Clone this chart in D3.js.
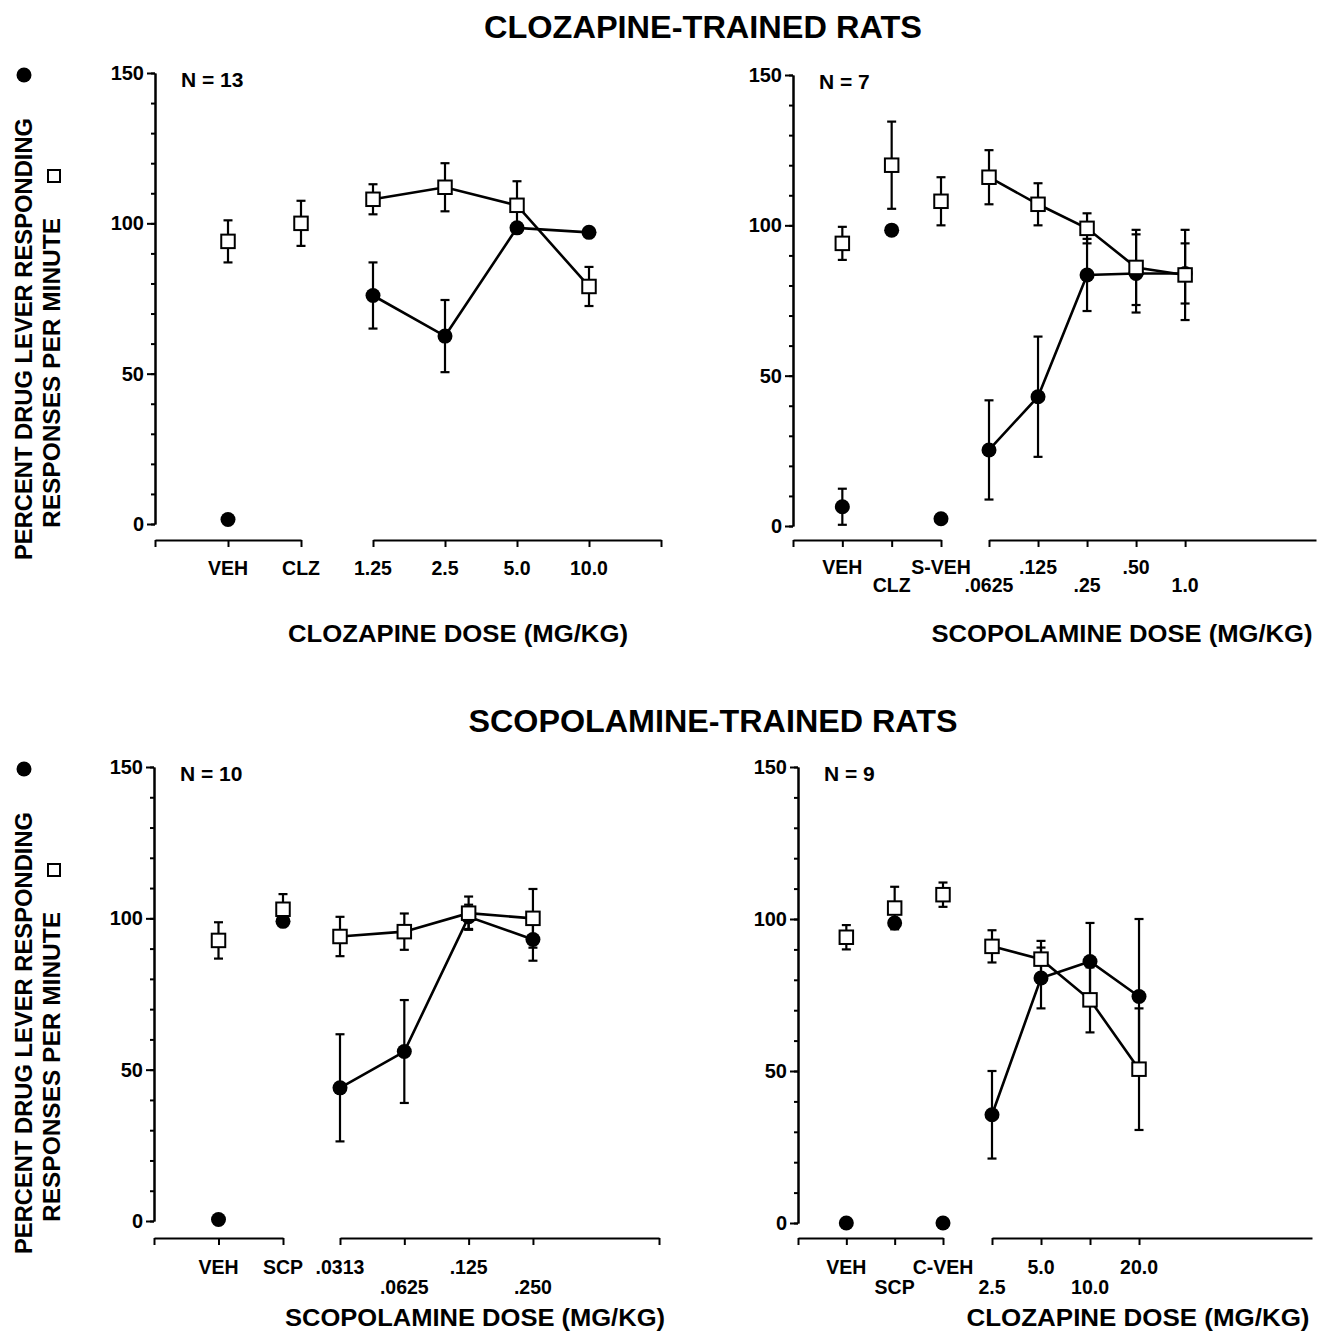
<!DOCTYPE html>
<html>
<head>
<meta charset="utf-8">
<script src="https://cdn.jsdelivr.net/npm/d3@7"></script>
<style>
body { margin: 0; background: #fff; }
text { font-family: "Liberation Sans", Arial, Helvetica, sans-serif; font-weight: bold; fill: #000; }
.tick text { font-size: 20px; }
.tick line, .domain { stroke: #000; stroke-width: 2; }
</style>
</head>
<body>
<svg id="fig" width="1318" height="1333"></svg>
<script>
// y axis ticks shared by all four panels
var yTicks = [0, 50, 100, 150];

// clozapine-trained rats, clozapine doses
var aTicks1 = ["VEH", "CLZ"];
var aTicks2 = ["1.25", "2.5", "5.0", "10.0"];
var aDoses    = ["VEH", "CLZ", "1.25", "2.5", "5.0", "10.0"];
var aDrug     = [1.5, null, 76, 62.5, 98.5, 97];
var aDrugErr  = [0, 0, 11, 12, 0, 0];
var aRate     = [94, 100, 108, 112, 106, 79];
var aRateErr  = [7, 7.5, 5, 8, 8, 6.5];

// clozapine-trained rats, scopolamine doses
var bTicks1 = ["VEH", "CLZ", "S-VEH"];
var bTicks2 = [".0625", ".125", ".25", ".50", "1.0"];
var bDoses    = ["VEH", "CLZ", "S-VEH", ".0625", ".125", ".25", ".50", "1.0"];
var bDrug     = [6.4, 98.4, 2.4, 25.3, 43, 83.5, 84, 84];
var bDrugErr  = [6, 0, 0, 16.5, 20, 12, 13, 10];
var bRate     = [94, 120, 108, 116, 107, 99, 86, 83.5];
var bRateErr  = [5.5, 14.5, 8, 9, 7, 5, 12.5, 15];

// scopolamine-trained rats, scopolamine doses
var cTicks1 = ["VEH", "SCP"];
var cTicks2 = [".0313", ".0625", ".125", ".250"];
var cDoses    = ["VEH", "SCP", ".0313", ".0625", ".125", ".250"];
var cDrug     = [0.5, 99, 44, 56, 100.5, 93];
var cDrugErr  = [0, 0, 17.7, 17, 4, 7];
var cRate     = [92.7, 103, 94, 95.6, 101.7, 100];
var cRateErr  = [6, 5, 6.5, 6, 5.5, 9.7];

// scopolamine-trained rats, clozapine doses
var dTicks1 = ["VEH", "SCP", "C-VEH"];
var dTicks2 = ["2.5", "5.0", "10.0", "20.0"];
var dDoses    = ["VEH", "SCP", "C-VEH", "2.5", "5.0", "10.0", "20.0"];
var dDrug     = [0, 98.7, 0, 35.6, 80.6, 86, 74.5];
var dDrugErr  = [0, 0, 0, 14.4, 10, 12.7, 25.5];
var dRate     = [94, 103.6, 108, 91, 86.8, 73.4, 50.6];
var dRateErr  = [4, 7, 4, 5.3, 6, 10.7, 20];

var svg = d3.select("#fig");

// titles
svg.append("text").attr("x", 703).attr("y", 38).attr("text-anchor", "middle")
	.style("font-size", "31px").attr("textLength", 438).attr("lengthAdjust", "spacingAndGlyphs")
	.text("CLOZAPINE-TRAINED RATS");
svg.append("text").attr("x", 713).attr("y", 732).attr("text-anchor", "middle")
	.style("font-size", "31px").attr("textLength", 489).attr("lengthAdjust", "spacingAndGlyphs")
	.text("SCOPOLAMINE-TRAINED RATS");

// rotated y titles with the two symbol keys
var yTitle = function (top) {
	svg.append("circle").attr("cx", 24).attr("cy", top + 2).attr("r", 7.5).style("fill", "#000");
	svg.append("rect").attr("x", 48).attr("y", top + 97).attr("width", 12).attr("height", 12)
		.style("fill", "#fff").style("stroke", "#000").style("stroke-width", 2);
	svg.append("text").attr("transform", "translate(32," + (top + 266) + ") rotate(-90)")
		.attr("text-anchor", "middle").style("font-size", "24px")
		.attr("textLength", 442).attr("lengthAdjust", "spacingAndGlyphs")
		.text("PERCENT DRUG LEVER RESPONDING");
	svg.append("text").attr("transform", "translate(60," + (top + 300) + ") rotate(-90)")
		.attr("text-anchor", "middle").style("font-size", "24px")
		.attr("textLength", 310).attr("lengthAdjust", "spacingAndGlyphs")
		.text("RESPONSES PER MINUTE");
};
yTitle(73);
yTitle(767);

var drawPanel = function (p) {
	var g = svg.append("g");
	var y = d3.scaleLinear().domain([0, 150]).range([p.yBot, p.yTop]);
	var x1 = d3.scalePoint().domain([""].concat(p.ticks1)).range(p.seg1);
	var x2 = d3.scaleLinear().domain([0, p.span2]).range(p.seg2);
	var xOf = function (c) {
		var i = p.ticks2.indexOf(c);
		return i < 0 ? x1(c) : x2(i);
	};

	// y axis, minor then major ticks
	g.append("g").attr("transform", "translate(" + p.ox + ",0)")
		.call(d3.axisLeft(y).tickValues(d3.range(0, 151, 10)).tickSize(4).tickSizeOuter(0).tickFormat(""));
	g.append("g").attr("transform", "translate(" + p.ox + ",0)")
		.call(d3.axisLeft(y).tickValues(yTicks).tickSize(8).tickSizeOuter(0).tickPadding(3));

	// broken x axis
	g.append("g").attr("transform", "translate(0," + p.axisY + ")")
		.call(d3.axisBottom(x1).tickSize(7).tickSizeOuter(0).tickFormat(""));
	var t2 = d3.range(p.ticks2.length);
	if (p.endTick) t2.push(p.span2);
	g.append("g").attr("transform", "translate(0," + p.axisY + ")")
		.call(d3.axisBottom(x2).tickValues(t2).tickSize(7).tickSizeOuter(0).tickFormat(""));

	// staggered tick labels
	p.ticks1.concat(p.ticks2).forEach(function (c, i) {
		g.append("text").attr("x", xOf(c)).attr("y", p.axisY + p.rows[p.labelRow[i]])
			.attr("text-anchor", "middle").attr("dy", "0.35em").style("font-size", "19.5px").text(c);
	});

	g.append("text").attr("x", p.titleX).attr("y", p.titleY).attr("text-anchor", "middle")
		.attr("dy", "0.35em").style("font-size", "24px")
		.attr("textLength", p.titleW).attr("lengthAdjust", "spacingAndGlyphs").text(p.title);
	g.append("text").attr("x", p.ox + 26).attr("y", p.yTop + 7).attr("dy", "0.35em")
		.style("font-size", "21px").text(p.n);

	var pts = p.doses.map(function (d, i) {
		return { x: xOf(d), seg2: p.ticks2.indexOf(d) >= 0,
			drug: p.drug[i], drugErr: p.drugErr[i], rate: p.rate[i], rateErr: p.rateErr[i] };
	});

	// error bars
	var bar = function (v, e, x) {
		if (v === null || !e) return;
		g.append("line").attr("x1", x).attr("x2", x).attr("y1", y(v - e)).attr("y2", y(v + e))
			.style("stroke", "#000").style("stroke-width", 2.2);
		[v - e, v + e].forEach(function (yy) {
			g.append("line").attr("x1", x - 4.5).attr("x2", x + 4.5).attr("y1", y(yy)).attr("y2", y(yy))
				.style("stroke", "#000").style("stroke-width", 2.2);
		});
	};
	pts.forEach(function (d) {
		bar(d.drug, d.drugErr, d.x);
		bar(d.rate, d.rateErr, d.x);
	});

	// connecting lines over the dose segment
	var seg = pts.filter(function (d) { return d.seg2; });
	g.append("path").datum(seg)
		.attr("d", d3.line().x(function (d) { return d.x; }).y(function (d) { return y(d.drug); }))
		.style("fill", "none").style("stroke", "#000").style("stroke-width", 2.6);
	g.append("path").datum(seg)
		.attr("d", d3.line().x(function (d) { return d.x; }).y(function (d) { return y(d.rate); }))
		.style("fill", "none").style("stroke", "#000").style("stroke-width", 2.6);

	g.selectAll("circle.drug").data(pts.filter(function (d) { return d.drug !== null; }))
		.enter().append("circle").attr("class", "drug")
		.attr("cx", function (d) { return d.x; }).attr("cy", function (d) { return y(d.drug); })
		.attr("r", 7.5).style("fill", "#000");
	g.selectAll("rect.rate").data(pts.filter(function (d) { return d.rate !== null; }))
		.enter().append("rect").attr("class", "rate")
		.attr("x", function (d) { return d.x - 6.75; }).attr("y", function (d) { return y(d.rate) - 6.75; })
		.attr("width", 13.5).attr("height", 13.5)
		.style("fill", "#fff").style("stroke", "#000").style("stroke-width", 2);
};

drawPanel({ ox: 155, yTop: 73, yBot: 524, axisY: 540, seg1: [155, 301], seg2: [373, 661], span2: 4, endTick: true,
	ticks1: aTicks1, ticks2: aTicks2, labelRow: [0, 0, 0, 0, 0, 0], rows: [28, 46],
	doses: aDoses, drug: aDrug, drugErr: aDrugErr, rate: aRate, rateErr: aRateErr,
	title: "CLOZAPINE DOSE (MG/KG)", titleX: 458, titleY: 634, titleW: 340, n: "N = 13" });
drawPanel({ ox: 793, yTop: 75, yBot: 526, axisY: 540, seg1: [793, 941], seg2: [989, 1316], span2: 6.67, endTick: false,
	ticks1: bTicks1, ticks2: bTicks2, labelRow: [0, 1, 0, 1, 0, 1, 0, 1], rows: [27, 45],
	doses: bDoses, drug: bDrug, drugErr: bDrugErr, rate: bRate, rateErr: bRateErr,
	title: "SCOPOLAMINE DOSE (MG/KG)", titleX: 1122, titleY: 634, titleW: 381, n: "N = 7" });
drawPanel({ ox: 154, yTop: 767, yBot: 1221, axisY: 1238, seg1: [154, 283], seg2: [340, 659], span2: 4.96, endTick: true,
	ticks1: cTicks1, ticks2: cTicks2, labelRow: [0, 0, 0, 1, 0, 1], rows: [29, 49],
	doses: cDoses, drug: cDrug, drugErr: cDrugErr, rate: cRate, rateErr: cRateErr,
	title: "SCOPOLAMINE DOSE (MG/KG)", titleX: 475, titleY: 1318, titleW: 380, n: "N = 10" });
drawPanel({ ox: 798, yTop: 767, yBot: 1223, axisY: 1238, seg1: [798, 943], seg2: [992, 1312], span2: 6.53, endTick: false,
	ticks1: dTicks1, ticks2: dTicks2, labelRow: [0, 1, 0, 1, 0, 1, 0], rows: [29, 49],
	doses: dDoses, drug: dDrug, drugErr: dDrugErr, rate: dRate, rateErr: dRateErr,
	title: "CLOZAPINE DOSE (MG/KG)", titleX: 1138, titleY: 1318, titleW: 343, n: "N = 9" });
</script>
</body>
</html>
